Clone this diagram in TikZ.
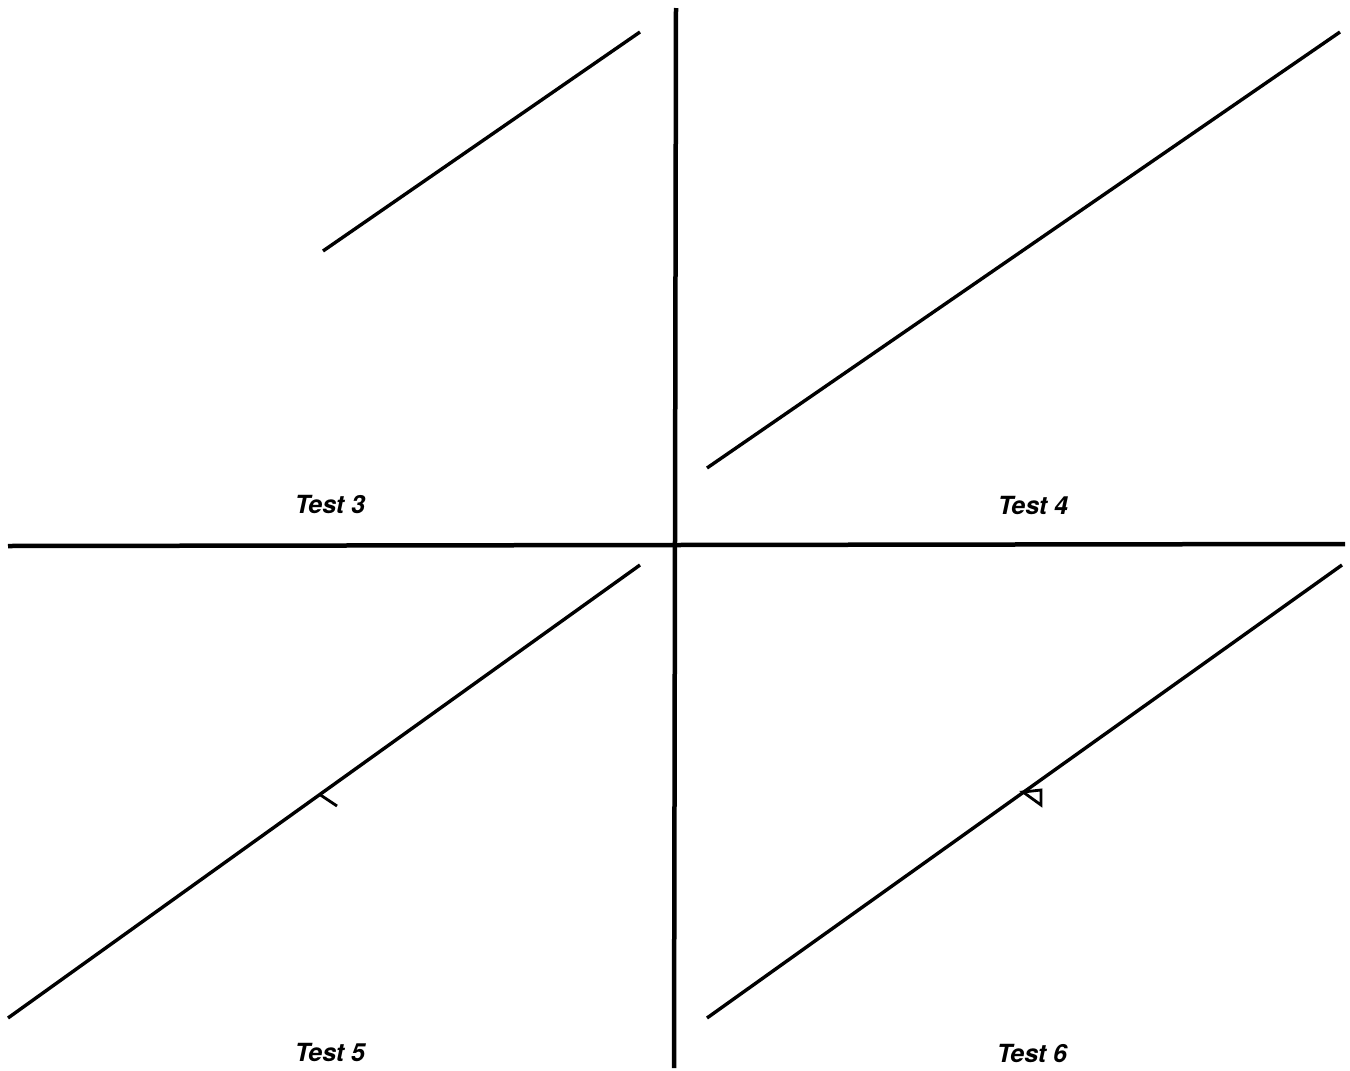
\documentclass[tikz,border=0pt]{standalone}
\usepackage{fontspec}
\setmainfont{TeX Gyre Heros}
\begin{document}
\begin{tikzpicture}[x=1pt,y=-1pt,
  axis/.style={line width=4.5pt},
  diag/.style={line width=3.4pt},
  mark5/.style={line width=2.8pt},
  lbl/.style={font=\fontsize{25}{30}\selectfont\bfseries\itshape, inner sep=0pt}]
\useasboundingbox (0,0) rectangle (1350,1071);
% axes
\coordinate (hl) at (8,546); \coordinate (hr) at (1345,544);
\coordinate (vt) at (676,8); \coordinate (vb) at (674,1068);
\draw[axis] (hl) -- (hr);
\draw[axis] (vt) -- (vb);
% diagonal lines
\coordinate (a3) at (323,251); \coordinate (b3) at (640,32);
\coordinate (a4) at (707,468); \coordinate (b4) at (1340,32);
\coordinate (a5) at (8,1018); \coordinate (b5) at (640,565);
\coordinate (a6) at (707,1018); \coordinate (b6) at (1342,565);
\draw[diag] (a3) -- (b3);
\draw[diag] (a4) -- (b4);
\draw[diag] (a5) -- (b5);
\draw[diag] (a6) -- (b6);
% marks
\coordinate (t5a) at (319,794); \coordinate (t5b) at (337,806);
\draw[mark5] (t5a) -- (t5b);
\coordinate (t6a) at (1023,792); \coordinate (t6b) at (1041,790); \coordinate (t6c) at (1041,805);
\draw[mark5, line join=miter] (t6a) -- (t6b) -- (t6c) -- cycle;
% labels
\node[lbl] (l3) at (330,504) {Test 3};
\node[lbl] (l4) at (1033,505) {Test 4};
\node[lbl] (l5) at (330,1052) {Test 5};
\node[lbl] (l6) at (1032,1053) {Test 6};
\end{tikzpicture}
\end{document}
